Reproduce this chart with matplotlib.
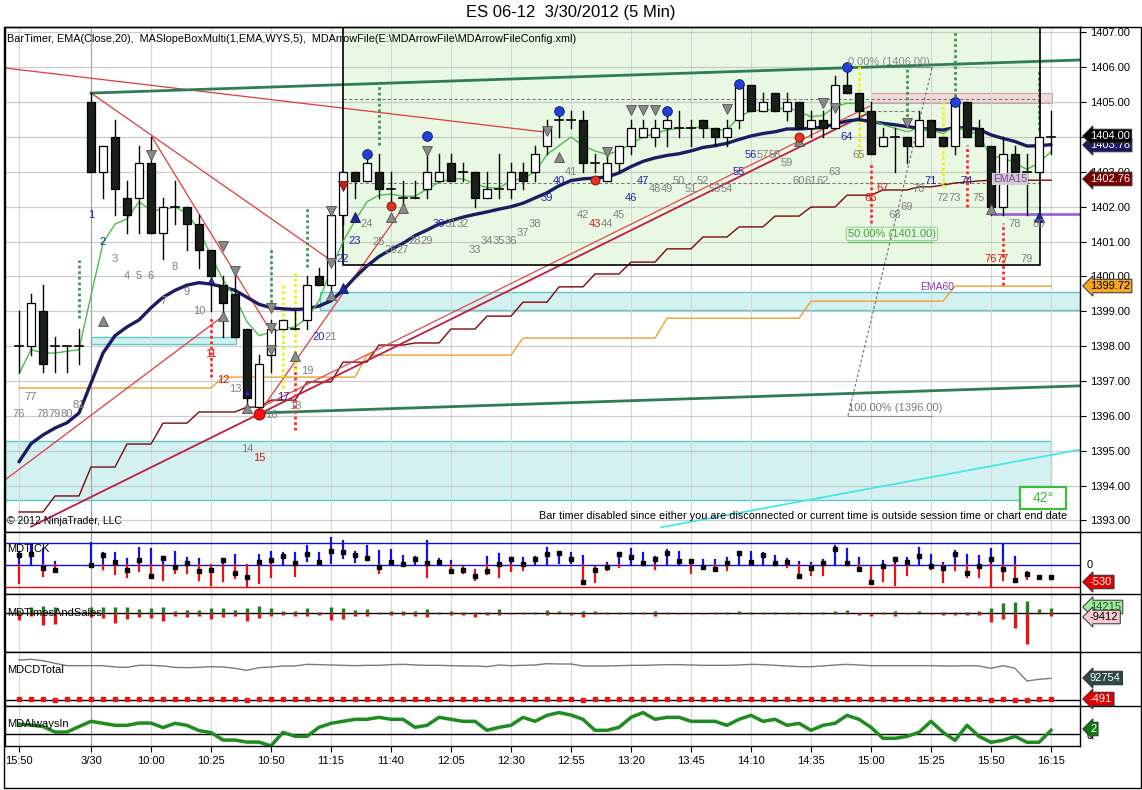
import numpy as np
import matplotlib
matplotlib.use('Agg')
import matplotlib.pyplot as plt
from matplotlib.patches import Rectangle
from matplotlib.lines import Line2D
from matplotlib import font_manager

_names = {f.name for f in font_manager.fontManager.ttflist}
FONT = 'Liberation Sans' if 'Liberation Sans' in _names else 'DejaVu Sans'
plt.rcParams['font.family'] = FONT

# ---------------- DATA ----------------
title = 'ES 06-12  3/30/2012 (5 Min)'
header = r'BarTimer, EMA(Close,20),  MASlopeBoxMulti(1,EMA,WYS,5),  MDArrowFile(E:\MDArrowFile\MDArrowFileConfig.xml)'

time_pos = [0, 6, 11, 16, 21, 26, 31, 36, 41, 46, 51, 56, 61, 66, 71, 76, 81, 86]
time_lbl = ['15:50', '3/30', '10:00', '10:25', '10:50', '11:15', '11:40', '12:05', '12:30',
            '12:55', '13:20', '13:45', '14:10', '14:35', '15:00', '15:25', '15:50', '16:15']
price_ticks = [1393, 1394, 1395, 1396, 1397, 1398, 1399, 1400, 1401, 1402, 1403, 1404, 1405, 1406, 1407]

opens = [1398, 1398, 1399, 1398, 1398, 1398,
         1405, 1403, 1404, 1402.25, 1402.25, 1403.25, 1401.25, 1402, 1402, 1401.5,
         1400.75, 1399.75, 1399.5, 1398.5, 1396.25, 1397.75, 1398.5, 1398.5, 1398.75, 1400,
         1399.75, 1401.75, 1403, 1402.75, 1403, 1402.5, 1402.25, 1402.25, 1402.5, 1402.75,
         1403.25, 1403, 1403, 1402.25, 1402.5, 1402.5, 1403, 1403, 1403.75, 1404.5,
         1404.5, 1404.5, 1403.25, 1402.75, 1403.25, 1403.75, 1404, 1404, 1404.25, 1404.25,
         1404.25, 1404.5, 1404.25, 1404, 1404.5, 1405.5, 1404.75, 1405.25, 1404.75, 1405,
         1404.25, 1404.5, 1404.25, 1405.5, 1405.25, 1404.75, 1403.75, 1404, 1404, 1403.75,
         1404.5, 1404, 1403.75, 1405, 1404.25, 1403.75, 1402, 1403.5, 1403, 1403, 1404]
highs = [1399, 1399.5, 1399.75, 1398.25, 1398, 1398.5,
         1405.25, 1403.75, 1404.5, 1402.75, 1403.75, 1404, 1402.25, 1402.75, 1402, 1401.75,
         1400.75, 1400, 1400, 1398.5, 1397.75, 1398.75, 1398.75, 1399, 1400, 1400.25,
         1402, 1403, 1403, 1403.5, 1403.5, 1403, 1402.75, 1402.75, 1403.5, 1403.5,
         1403.5, 1403.25, 1403, 1403, 1403.5, 1403.25, 1403.25, 1403.75, 1404.5, 1404.75,
         1404.75, 1404.75, 1403.5, 1403.5, 1403.75, 1404.5, 1404.5, 1404.5, 1404.75, 1404.75,
         1404.5, 1404.5, 1404.25, 1404.5, 1405.5, 1405.5, 1405.25, 1405.25, 1405.25, 1405,
         1404.75, 1404.75, 1405.75, 1406, 1405.25, 1405, 1404.25, 1404.25, 1404, 1404.75,
         1404.5, 1404, 1405, 1405, 1404.5, 1403.75, 1404, 1403.75, 1403.5, 1404, 1404.75]
lows = [1397.25, 1397.75, 1397.25, 1397.25, 1397.25, 1397.5,
        1403, 1402.25, 1401.75, 1401.25, 1401.25, 1401.25, 1400.5, 1401.5, 1400.75, 1400.25,
        1399, 1398.25, 1398.25, 1396.25, 1396, 1397.25, 1398.5, 1398.5, 1398.5, 1399.75,
        1399.5, 1401.5, 1402.25, 1402.75, 1402.25, 1402, 1402, 1402.25, 1402.25, 1402.75,
        1402.75, 1402.75, 1402, 1402.25, 1402.25, 1402.25, 1402.5, 1402.75, 1403.5, 1404,
        1404.25, 1403, 1403, 1402.75, 1403, 1403.5, 1404, 1403.75, 1403.75, 1404,
        1403.75, 1404, 1403.75, 1403.75, 1404.25, 1404.75, 1404.75, 1404.75, 1404.5, 1404.25,
        1404, 1404, 1404.25, 1405.25, 1404.5, 1403.5, 1403.75, 1403, 1403.25, 1403.75,
        1404, 1403.75, 1403.5, 1404, 1403.75, 1401.75, 1401.75, 1403, 1401.75, 1403, 1403.5]
closes = [1398, 1399.25, 1397.5, 1398, 1398, 1398,
          1403, 1403.75, 1402.5, 1401.75, 1403.25, 1401.25, 1402, 1402, 1401.5, 1400.75,
          1400, 1399.25, 1398.25, 1396.5, 1397.5, 1398.5, 1398.75, 1398.5, 1399.75, 1399.75,
          1401.75, 1403, 1402.75, 1403.25, 1402.5, 1402.5, 1402.25, 1402.25, 1403, 1403,
          1402.75, 1403, 1402.25, 1402.5, 1402.5, 1403, 1402.75, 1403.5, 1404.25, 1404.5,
          1404.5, 1403.25, 1403.25, 1403.25, 1403.75, 1404.25, 1404.25, 1404.25, 1404.5, 1404.25,
          1404.25, 1404.25, 1404, 1404.25, 1405.5, 1404.75, 1405, 1404.75, 1405, 1404.25,
          1404.5, 1404.25, 1405.5, 1405.25, 1404.75, 1403.5, 1404, 1404, 1403.75, 1404.5,
          1404, 1403.75, 1405, 1404, 1403.75, 1402, 1403.5, 1403, 1403, 1404, 1404]

ema_fast = [1397.2, 1397.9, 1397.8, 1397.8, 1397.85, 1397.9,
            1399.45, 1400.96, 1401.5, 1401.65, 1402.14, 1401.9, 1401.9, 1402.0, 1401.8, 1401.33,
            1400.6, 1399.9, 1399.4, 1398.7, 1398.3, 1398.4, 1398.5, 1398.55, 1398.8, 1399.3,
            1400.2, 1401.0, 1401.6, 1402.14, 1402.33, 1402.36, 1402.3, 1402.3, 1402.5, 1402.7,
            1402.8, 1402.8, 1402.65, 1402.55, 1402.53, 1402.75, 1402.8, 1403.0, 1403.5, 1403.75,
            1404.0, 1403.75, 1403.6, 1403.5, 1403.6, 1403.8, 1404.0, 1404.1, 1404.2, 1404.25,
            1404.25, 1404.3, 1404.2, 1404.2, 1404.58, 1404.75, 1404.77, 1404.78, 1404.85, 1404.73,
            1404.58, 1404.62, 1404.87, 1404.97, 1404.95, 1404.5, 1404.35, 1404.25, 1404.15, 1404.25,
            1404.2, 1404.1, 1404.3, 1404.2, 1404.05, 1403.43, 1403.41, 1403.25, 1403.07, 1403.26, 1403.58]
ema_slow = [1394.68, 1395.2, 1395.45, 1395.65, 1395.8, 1396.08,
            1396.94, 1397.8, 1398.3, 1398.55, 1398.75, 1399.1, 1399.4, 1399.6, 1399.75, 1399.82,
            1399.78, 1399.7, 1399.6, 1399.4, 1399.2, 1399.1, 1399.07, 1399.05, 1399.07, 1399.15,
            1399.3, 1399.6, 1399.97, 1400.3, 1400.57, 1400.77, 1400.95, 1401.17, 1401.33, 1401.5,
            1401.6, 1401.7, 1401.78, 1401.85, 1401.93, 1402.0, 1402.1, 1402.25, 1402.4, 1402.6,
            1402.75, 1402.8, 1402.82, 1402.85, 1402.97, 1403.15, 1403.3, 1403.4, 1403.47, 1403.52,
            1403.6, 1403.7, 1403.75, 1403.82, 1403.93, 1404.03, 1404.1, 1404.15, 1404.23, 1404.23,
            1404.25, 1404.28, 1404.37, 1404.46, 1404.5, 1404.44, 1404.39, 1404.35, 1404.3, 1404.25,
            1404.22, 1404.2, 1404.27, 1404.26, 1404.22, 1404.06, 1403.96, 1403.87, 1403.74, 1403.75, 1403.78]
ema15_step = [1393.24, 1393.24, 1393.24, 1393.70, 1393.70, 1393.70,
              1394.53, 1394.53, 1394.53, 1395.19, 1395.19, 1395.19, 1395.79, 1395.79, 1395.79, 1396.11,
              1396.11, 1396.11, 1396.11, 1396.25, 1396.25, 1396.45, 1396.45, 1396.45, 1396.97, 1396.97,
              1396.97, 1397.54, 1397.54, 1397.54, 1398.03, 1398.03, 1398.03, 1398.09, 1398.09, 1398.09,
              1398.49, 1398.49, 1398.49, 1398.86, 1398.86, 1398.86, 1399.26, 1399.26, 1399.26, 1399.70,
              1399.70, 1399.70, 1400.07, 1400.07, 1400.07, 1400.41, 1400.41, 1400.41, 1400.79, 1400.79,
              1400.79, 1401.13, 1401.13, 1401.13, 1401.42, 1401.42, 1401.42, 1401.73, 1401.73, 1401.73,
              1401.99, 1401.99, 1401.99, 1402.33, 1402.33, 1402.33, 1402.48, 1402.48, 1402.48, 1402.57,
              1402.57, 1402.62, 1402.68, 1402.71, 1402.74, 1402.76, 1402.76, 1402.76, 1402.76, 1402.76, 1402.76]
ema60_step = [1396.80, 1396.80, 1396.80, 1396.80, 1396.80, 1396.80,
              1396.80, 1396.80, 1396.80, 1396.80, 1396.80, 1396.80, 1396.80, 1396.80, 1396.80, 1396.80,
              1396.80, 1397.11, 1397.11, 1397.11, 1397.11, 1397.11, 1397.11, 1397.11, 1397.11, 1397.11,
              1397.11, 1397.11, 1397.11, 1397.74, 1397.74, 1397.74, 1397.74, 1397.74, 1397.74, 1397.74,
              1397.74, 1397.74, 1397.74, 1397.74, 1397.74, 1397.74, 1398.23, 1398.23, 1398.23, 1398.23,
              1398.23, 1398.23, 1398.23, 1398.23, 1398.23, 1398.23, 1398.23, 1398.23, 1398.80, 1398.80,
              1398.80, 1398.80, 1398.80, 1398.80, 1398.80, 1398.80, 1398.80, 1398.80, 1398.80, 1398.80,
              1399.29, 1399.29, 1399.29, 1399.29, 1399.29, 1399.29, 1399.29, 1399.29, 1399.29, 1399.29,
              1399.29, 1399.29, 1399.72, 1399.72, 1399.72, 1399.72, 1399.72, 1399.72, 1399.72, 1399.72, 1399.72]

nan = float('nan')
tick_hi = [600, 940, 700, 150, nan, nan,
           1000, 520, 520, 250, 750, 700, 370, 580, 300, 250,
           0, 280, 450, 0, 450, 570, 520, 520, 850, 520,
           1190, 1090, 600, 850, 630, 670, 400, 360, 1090, 250,
           160, -80, -220, 340, 490, 330, 300, 340, 750, 600,
           550, 400, -80, 75, 520, 720, 520, 370, 670, 600,
           190, 220, 220, 330, 600, 570, 520, 400, 250, 150,
           100, 220, 850, 720, 330, -75, 180, 330, 330, 750,
           450, 75, 640, 450, 400, 700, 940, 340, -300, -520, -520]
tick_lo = [-800, 0, -490, -250, nan, nan,
           0, -190, -400, -550, -250, -550, -670, -340, -340, -670,
           -900, -720, -600, -1000, -790, -520, 0, -490, 200, 70,
           100, 300, 150, 220, -340, 0, 0, 0, -520, 0,
           -250, -340, -670, -400, -550, -250, -220, 0, 0, 100,
           100, -750, -750, -220, -75, 0, 0, -190, 0, 0,
           -370, 0, -150, -220, 0, 0, 0, 0, -75, -480,
           -450, -450, 0, 0, -150, -820, -720, -900, -450, 0,
           -190, -750, -220, -520, -520, -1000, -670, -720, -640, -520, -520]
tick_cl = [450, 500, -120, -220, nan, nan,
           0, 460, 130, -220, 220, -480, 330, -100, 100, -250,
           -210, 220, -340, -520, 150, 220, 420, 100, 500, 150,
           640, 580, 430, 310, -90, 120, 60, 270, 75, 120,
           -250, -220, -480, -250, 30, 270, 45, 270, 480, 550,
           250, -750, -220, -75, 480, 340, 75, 270, 520, 190,
           190, -75, -180, 100, 520, 150, 450, 75, 120, -480,
           -120, 75, 700, 100, -180, -750, -30, 270, 150, 420,
           -30, -120, 510, -340, -30, 270, -180, -670, -420, -520, -520]

ts_buy = [10, 18, 22, 18, nan, nan,
          18, 18, 18, 18, 12, 16, 18, 8, 10, 10,
          15, 15, 10, 15, 22, 15, 8, 8, 15, 5,
          18, 15, 10, 12, 4, 6, 7, 7, 13, 4,
          6, 5, 4, 5, 12, 2, 4, 5, 11, 8,
          4, 8, 7, 3, 4, 4, 3, 7, 3, 2,
          1, 1, 4, 3, 7, 4, 4, 3, 3, 3,
          2, 3, 6, 9, 1, 2, 3, 8, 1, 6,
          1, 3, 3, 4, 7, 16, 32, 34, 36, 12, 15]
ts_sell = [-20, -8, -35, -32, nan, nan,
           -10, -13, -28, -17, -10, -14, -22, -8, -10, -8,
           -16, -12, -8, -22, -15, -7, -5, -7, -8, -5,
           -20, -16, -7, -7, -3, -4, -6, -7, -10, -3,
           -4, -5, -10, -4, -4, -2, -3, -3, -4, -3,
           -4, -12, -3, -2, -2, -2, -2, -7, -2, -1,
           -1, -1, -2, -2, -3, -2, -2, -3, -3, -3,
           -2, -2, -2, -2, -5, -7, -3, -7, -1, -2,
           -1, -4, -4, -4, -6, -26, -18, -43, -92, -2, -9]

cd_total = [171.2, 174.1, 168.4, 157.0, 147.0, 147.0,
            147.0, 147.0, 141.3, 139.8, 148.4, 148.4, 145.6, 139.8, 138.4, 140.0,
            142.7, 141.3, 135.6, 127.0, 138.4, 141.3, 145.6, 145.6, 152.7, 151.3,
            149.8, 148.4, 147.0, 148.4, 148.4, 151.3, 152.7, 150.0, 148.4, 148.4,
            147.0, 145.6, 145.6, 142.7, 149.8, 147.0, 148.4, 150.0, 155.5, 154.1,
            154.1, 145.6, 145.6, 145.6, 147.0, 148.4, 148.4, 149.8, 151.3, 151.3,
            150.0, 148.4, 148.4, 148.4, 150.0, 152.7, 151.3, 148.4, 145.6, 142.7,
            142.7, 145.6, 149.8, 152.7, 149.8, 147.0, 147.0, 147.0, 147.0, 147.0,
            147.0, 145.6, 145.6, 147.0, 145.6, 135.6, 147.0, 135.6, 81.3, 88.5, 92.8]
cd_delta = [4.3, 4.3, 4.3, -1.4, 4.3, 4.3,
            4.3, 4.3, 4.3, 4.3, 4.3, 4.3, 4.3, 4.3, 4.3, 4.3,
            4.3, 4.3, 4.3, -1.4, 4.3, 4.3, 4.3, 4.3, 4.3, 4.3,
            4.3, 4.3, 4.3, 4.3, 4.3, 4.3, 4.3, 4.3, 4.3, 4.3,
            4.3, 4.3, 4.3, 4.3, 4.3, 4.3, 4.3, 4.3, 4.3, 4.3,
            4.3, -1.4, 4.3, 4.3, 4.3, 4.3, 4.3, 4.3, 4.3, 4.3,
            4.3, 4.3, 4.3, 4.3, 4.3, 4.3, 4.3, 4.3, 4.3, 4.3,
            4.3, 4.3, 4.3, 4.3, 4.3, 4.3, 4.3, 4.3, 4.3, 4.3,
            4.3, 4.3, 4.3, 4.3, 4.3, -1.4, 4.3, -1.4, -1.4, 4.3, 4.3]

always_in = [4.1, 3.7, 3.1, 0.9, 0.9, 3.1,
             5.2, 4.4, 3.6, 3.6, 4.5, 4.5, 2.7, 4.4, 3.6, 1.5,
             0.7, -2.3, -2.3, -3.1, -3.1, -4.6, 0.8, -0.8, -0.8, 2.8,
             4.4, 5.2, 6.0, 6.0, 6.8, 6.0, 6.0, 2.8, 3.6, 6.8,
             6.0, 5.2, 5.2, 1.6, 2.8, 3.6, 6.8, 5.2, 7.6, 8.7,
             7.7, 6.0, 1.6, 1.6, 2.8, 6.8, 8.7, 6.0, 6.8, 6.8,
             5.2, 5.2, 5.2, 3.6, 6.0, 7.6, 5.2, 6.0, 3.6, 4.4,
             1.6, 3.6, 4.4, 7.6, 6.0, 2.8, -1.6, -1.6, -0.8, 0.8,
             5.2, 0.8, -2.4, 3.6, -0.8, -3.2, -2.4, -0.8, -3.2, -3.2, 1.6]

# bar counter labels (one per bar, bars 0..85)
count_txt = ['76', '77', '78', '79', '80', '81'] + [str(k) for k in range(1, 81)]
count_y = [1396.05, 1396.54, 1396.05, 1396.05, 1396.05, 1396.31,
           1401.76, 1400.99, 1400.5, 1400.01, 1400.01, 1400.01, 1399.29, 1400.27, 1399.55, 1399.0,
           1397.77, 1397.03, 1396.77, 1395.05, 1394.79, 1396.02, 1396.54, 1396.28, 1397.29, 1398.26,
           1398.26, 1400.5, 1401.02, 1401.5, 1400.99, 1400.76, 1400.76, 1401.02, 1401.02, 1401.5,
           1401.5, 1401.5, 1400.76, 1401.02, 1401.02, 1401.02, 1401.25, 1401.5, 1402.25, 1402.74,
           1403.0, 1401.76, 1401.5, 1401.5, 1401.76, 1402.25, 1402.74, 1402.51, 1402.51, 1402.74,
           1402.51, 1402.74, 1402.51, 1402.51, 1403.0, 1403.49, 1403.49, 1403.49, 1403.25, 1402.74,
           1402.74, 1402.74, 1403.0, 1404.0, 1403.49, 1402.25, 1402.54, 1401.76, 1401.99, 1402.51,
           1402.74, 1402.25, 1402.25, 1402.74, 1402.25, 1400.5, 1400.5, 1401.5, 1400.5, 1401.5]
count_col = ['g', 'g', 'g', 'g', 'g', 'g',
             'b', 'b', 'g', 'g', 'g', 'g', 'g', 'g', 'g', 'g',
             'r', 'r', 'g', 'g', 'r', 'g', 'b', 'g', 'g', 'b',
             'g', 'b', 'b', 'g', 'g', 'g', 'g', 'g', 'g', 'b',
             'g', 'g', 'g', 'g', 'g', 'g', 'g', 'g', 'b', 'b',
             'g', 'g', 'r', 'g', 'g', 'b', 'b', 'g', 'g', 'g',
             'g', 'g', 'g', 'g', 'b', 'b', 'g', 'g', 'g', 'g',
             'g', 'g', 'g', 'b', 'g', 'r', 'r', 'g', 'g', 'g',
             'b', 'g', 'g', 'b', 'g', 'r', 'r', 'g', 'g', 'g']

# signal markers (bar, price)
gray_down_bar = [11, 17, 18, 21, 21, 21, 26, 26, 34, 44, 49, 51, 52, 53, 59, 67, 68, 74]
gray_down_px = [1403.48, 1400.87, 1400.15, 1399.09, 1398.51, 1397.9, 1401.88, 1400.38, 1403.6,
                1404.17, 1403.57, 1404.77, 1404.77, 1404.77, 1404.8, 1404.97, 1404.83, 1404.4]
gray_up_bar = [7, 17, 19, 23, 26, 31, 32, 45, 65, 81]
gray_up_px = [1398.72, 1398.86, 1396.23, 1397.72, 1399.47, 1401.7, 1401.95, 1403.42, 1403.88, 1401.94]
blue_dot_bar = [29, 34, 45, 54, 60, 69, 78]
blue_dot_px = [1403.51, 1404.03, 1404.74, 1404.74, 1405.52, 1406.0, 1405.01]
red_dot_bar = [31, 48, 65]
red_dot_px = [1402.02, 1402.77, 1404.0]
swing_low_bar = [20]
swing_low_px = [1396.05]
blue_up_bar = [27, 28, 85]
blue_up_px = [1399.67, 1401.7, 1401.7]
red_down_bar = [27]
red_down_px = [1402.59]
inbar_blue_bar = [16, 19]
inbar_blue_px = [1399.9, 1396.69]

# dotted vertical signal lines: bar, top, bottom
green_vl_bar = [5, 21, 24, 30, 74, 78, 85]
green_vl_top = [1400.47, 1400.78, 1401.95, 1405.5, 1406.0, 1407.0, 1405.9]
green_vl_bot = [1398.8, 1399.1, 1400.27, 1403.77, 1404.43, 1405.0, 1404.2]
red_vl_bar = [16, 23, 71, 79, 82]
red_vl_top = [1398.8, 1397.69, 1403.25, 1403.77, 1401.53]
red_vl_bot = [1397.1, 1395.6, 1401.53, 1402.0, 1399.75]
yel_vl_bar = [22, 23, 70, 77]
yel_vl_top = [1399.75, 1400.1, 1406.1, 1405.0]
yel_vl_bot = [1396.8, 1397.3, 1403.4, 1402.57]

# drawn objects (bar, price) pairs
trend_green_hi = ([6, 88.42], [1405.26, 1406.21])
trend_green_lo = ([20, 88.42], [1396.08, 1396.86])
red_line_a = ([-1.17, 43.83], [1405.98, 1404.14])
red_line_b = ([6, 26.33], [1405.26, 1400.38])
red_line_c = ([11.08, 20.67], [1404.0, 1398.6])
red_line_d = ([-1.17, 17], [1394.16, 1398.86])
red_line_e = ([20, 32.17], [1396.08, 1402.05])
channel_1 = ([1.0, 70.92], [1392.82, 1404.71])
channel_2 = ([20, 70.92], [1396.22, 1404.89])
cyan_line = ([53.5, 88.42], [1392.8, 1395.03])
fib_diag = ([69.08, 76.1], [1396.0, 1406.0])
fib_levels = [1406.0, 1401.0, 1396.0]
fib_span = [69.08, 76.1]
slope_box = (27, 85.08, 1400.33)                # left bar, right bar, bottom price
cyan_box1 = (6, 18.08, 1398.05, 1398.27)
cyan_box2 = (25.08, 88.42, 1399.04, 1399.55)
cyan_box3 = (-1.17, 86.0, 1393.58, 1395.28)
pink_box = (71.0, 86.08, 1404.98, 1405.25)
angle_box = (83.4, 87.25, 1393.33, 1393.96)
dashed_levels = [1405.08, 1402.68]
dashed_span = [27, 85.08]
short_dash = ([71.1, 74.8], [1404.75, 1404.75])
purple_level = ([81.08, 88.42], [1401.78, 1401.78])

N = len(opens)
for arr in (highs, lows, closes, ema_fast, ema_slow, ema15_step, ema60_step, tick_hi, tick_lo,
            tick_cl, ts_buy, ts_sell, cd_total, cd_delta, always_in):
    assert len(arr) == N, len(arr)
assert len(count_txt) == len(count_y) == len(count_col) == 86

# ---------------- LAYOUT ----------------
W, H = 1142, 790
fig = plt.figure(figsize=(W / 100, H / 100), dpi=100)
fig.patch.set_facecolor('white')


def fx(x):
    return x / W


def fy(y):
    return 1 - y / H


def add_ax(top, bottom, left=5, right=1080):
    return fig.add_axes([fx(left), fy(bottom), (right - left) / W, (bottom - top) / H])


ax = add_ax(27, 532)
ax_tk = add_ax(532, 594)
ax_ts = add_ax(594, 652)
ax_cd = add_ax(652, 706)
ax_ai = add_ax(706, 746)
XL = (-14 / 12, 1061 / 12)
YMAIN = (1392.666, 1407.156)
all_ax = [ax, ax_tk, ax_ts, ax_cd, ax_ai]
for a in all_ax:
    a.set_xlim(*XL)
    a.set_xticks([])
    a.set_facecolor('white')
    for s in a.spines.values():
        s.set_linewidth(1.0)
        s.set_color('black')
    for t in time_pos:
        a.axvline(t, color='#a0a0a0' if t == 6 else '#d6d6d6', lw=0.8, zorder=0.5)

# ---- main panel ----
ax.set_ylim(*YMAIN)
ax.yaxis.tick_right()
ax.set_yticks(price_ticks)
ax.set_yticklabels(['%.2f' % p for p in price_ticks])
ax.tick_params(axis='y', direction='out', length=4, width=0.8, pad=3, labelsize=8)
for p in price_ticks:
    ax.axhline(p, color='#b8b8b8', alpha=0.7, lw=0.9, zorder=0.5)

# boxes
l, r, b = slope_box
ax.add_patch(Rectangle((l, b), r - l, YMAIN[1] - b, fc='#e8f8e2', ec='none', zorder=0.3))
ax.plot([l, l, r, r], [YMAIN[1], b, b, YMAIN[1]], color='black', lw=1.2, zorder=2.5)
for (x0, x1, y0, y1) in (cyan_box1, cyan_box2, cyan_box3):
    ax.add_patch(Rectangle((x0, y0), x1 - x0, y1 - y0, fc='#d3f1f1', ec='#5cc8c8', lw=1.0, zorder=0.4))
x0, x1, y0, y1 = pink_box
ax.add_patch(Rectangle((x0, y0), x1 - x0, y1 - y0, fc='#f3d9d9', ec='#c9a3a3', lw=0.8, zorder=0.45))

# dashed levels
for lv in dashed_levels:
    ax.plot(dashed_span, [lv, lv], color='#7a7a7a', lw=0.8, ls=(0, (3, 2)), zorder=1)
ax.plot(*short_dash, color='#7a7a7a', lw=0.8, ls=(0, (3, 2)), zorder=1)

# step lines
ax.plot(range(N), ema60_step, color='#f0a030', lw=1.0, zorder=1.5)
ax.plot(range(N), ema15_step, color='#7a0a0a', lw=1.0, zorder=1.5)

# trend lines
for tl in (red_line_a, red_line_b, red_line_c, red_line_d, red_line_e):
    ax.plot(*tl, color='#e23a3a', lw=0.9, zorder=1.6)
ax.plot(*channel_1, color='#c01c44', lw=1.3, zorder=1.6)
ax.plot(*channel_2, color='#e24a4a', lw=0.9, zorder=1.6)
ax.plot(*trend_green_hi, color='#2f7d55', lw=2.0, zorder=1.7)
ax.plot(*trend_green_lo, color='#2f7d55', lw=2.0, zorder=1.7)
ax.plot(*cyan_line, color='#3ee6e6', lw=1.2, zorder=1.6)
ax.plot(*purple_level, color='#9b63d8', lw=2.0, zorder=1.6)

# fib
ax.plot(*fib_diag, color='#707070', lw=0.8, ls=(0, (2.5, 2)), zorder=1.6)
for lv, c in zip(fib_levels, ['#909090', '#5cc05c', '#909090']):
    ax.plot(fib_span, [lv, lv], color=c, lw=0.8, zorder=1.6)
ax.text(fib_span[0], 1406.16, '0.00% (1406.00)', color='#8a8a8a', fontsize=8, va='center', ha='left', zorder=6)
ax.text(fib_span[0], 1401.22, '50.00% (1401.00)', color='#30a830', fontsize=8, va='center', ha='left', zorder=6,
        bbox=dict(boxstyle='round,pad=0.15', fc='none', ec='#8fd88f', lw=0.8))
ax.text(fib_span[0], 1396.23, '100.00% (1396.00)', color='#7a7a7a', fontsize=8, va='center', ha='left', zorder=6)

# dotted signal lines
for bars, tops, bots, col in ((green_vl_bar, green_vl_top, green_vl_bot, '#3c9a4c'),
                              (red_vl_bar, red_vl_top, red_vl_bot, '#ff2a2a'),
                              (yel_vl_bar, yel_vl_top, yel_vl_bot, '#f2f200')):
    for xb, t, bt in zip(bars, tops, bots):
        ax.plot([xb, xb], [bt, t], color=col, lw=2.0, ls=(0, (1, 1)), zorder=1.8)

# EMAs
ax.plot(range(N), ema_slow, color='#1c1c62', lw=2.4, zorder=3, solid_capstyle='round')
ax.plot(range(N), ema_fast, color='#4cbc4c', lw=1.0, zorder=3.1)

# candles
bw = 0.62
for i in range(N):
    o, h, lo_, c = opens[i], highs[i], lows[i], closes[i]
    ax.plot([i, i], [lo_, h], color='black', lw=1.0, zorder=4)
    if c == o:
        ax.plot([i - bw / 2, i + bw / 2], [c, c], color='black', lw=1.2, zorder=4.1)
    else:
        fc = 'white' if c > o else '#1b1f1b'
        ax.add_patch(Rectangle((i - bw / 2, min(o, c)), bw, abs(c - o), fc=fc, ec='black', lw=0.9, zorder=4.1))

# markers
ax.plot(gray_down_bar, gray_down_px, 'v', ms=6.5, mfc='#8a8a8a', mec='#505050', mew=0.6, ls='none', zorder=5)
ax.plot(gray_up_bar, gray_up_px, '^', ms=6.5, mfc='#8a8a8a', mec='#505050', mew=0.6, ls='none', zorder=5)
ax.plot(blue_dot_bar, blue_dot_px, 'o', ms=7, mfc='#2040d8', mec='#101860', mew=0.6, ls='none', zorder=5)
ax.plot(red_dot_bar, red_dot_px, 'o', ms=6.5, mfc='#e83020', mec='#701010', mew=0.6, ls='none', zorder=5.1)
ax.plot(swing_low_bar, swing_low_px, 'o', ms=8, mfc='#ff1010', mec='#900000', mew=0.6, ls='none', zorder=5.1)
ax.plot(blue_up_bar, blue_up_px, '^', ms=7, mfc='#1c28a0', mec='#101050', mew=0.6, ls='none', zorder=5)
ax.plot(red_down_bar, red_down_px, 'v', ms=6.5, mfc='#c02020', mec='#601010', mew=0.6, ls='none', zorder=5)
ax.plot(inbar_blue_bar, inbar_blue_px, '^', ms=5, mfc='#2030c0', mec='#101050', mew=0.5, ls='none', zorder=5)

# bar counter labels
cmap = {'g': '#808080', 'b': '#1c28a8', 'r': '#d81818'}
for i in range(len(count_txt)):
    ax.text(i, count_y[i], count_txt[i], color=cmap[count_col[i]], fontsize=8, ha='center', va='center', zorder=6)

# EMA labels / misc text
ax.text(82.6, 1402.79, 'EMA15', color='#8a3aa8', fontsize=7.5, ha='center', va='center', zorder=6,
        bbox=dict(boxstyle='square,pad=0.1', fc='#cfcfcf', ec='none'))
ax.text(76.5, 1399.7, 'EMA60', color='#8a3aa8', fontsize=7.5, ha='center', va='center', zorder=6)
x0, x1, y0, y1 = angle_box
ax.add_patch(Rectangle((x0, y0), x1 - x0, y1 - y0, fc='white', ec='#3cbc3c', lw=1.6, zorder=5))
ax.text((x0 + x1) / 2, (y0 + y1) / 2, '42°', color='#3cbc3c', fontsize=10, ha='center', va='center', zorder=6)
fig.text(fx(1067), fy(516), 'Bar timer disabled since either you are disconnected or current time is outside '
         'session time or chart end date', fontsize=7.8, ha='right', va='center')
fig.text(fx(7), fy(521), '© 2012 NinjaTrader, LLC', fontsize=7.5, ha='left', va='center')
fig.text(fx(7), fy(39), header, fontsize=7.8, ha='left', va='center')
fig.text(fx(571), fy(12), title, fontsize=12, ha='center', va='center')

# ---- MDTICK ----
ax_tk.set_ylim(-1299, 1478)
ax_tk.set_yticks([])
ax_tk.axhline(1000, color='#1010e0', lw=1.0, zorder=1)
ax_tk.axhline(0, color='#1010e0', lw=1.0, zorder=1)
ax_tk.axhline(-1000, color='#e01010', lw=1.0, zorder=1)
for i in range(N):
    h, lo_, c = tick_hi[i], tick_lo[i], tick_cl[i]
    if np.isnan(h):
        continue
    if h > 0:
        ax_tk.plot([i, i], [max(lo_, 0), h], color='#1010e8', lw=1.6, zorder=2)
    if lo_ < 0:
        ax_tk.plot([i, i], [lo_, min(h, 0)], color='#e81010', lw=1.6, zorder=2)
    ax_tk.plot(i, c, 's', color='black', ms=3.0, zorder=3)
ax_tk.text(0.002, 0.73, 'MDTICK', transform=ax_tk.transAxes, fontsize=8, ha='left', va='center', zorder=6)

# ---- MDTimesAndSales ----
ax_ts.set_ylim(-116, 58)
ax_ts.set_yticks([])
ax_ts.axhline(0, color='black', lw=1.0, zorder=1)
for i in range(N):
    if np.isnan(ts_buy[i]):
        continue
    ax_ts.plot([i, i], [0, ts_buy[i]], color='#1f7f1f', lw=2.4, solid_capstyle='butt', zorder=2)
    ax_ts.plot([i, i], [ts_sell[i], 0], color='#e41414', lw=2.4, solid_capstyle='butt', zorder=2)
ax_ts.text(0.002, 0.68, 'MDTimesAndSales', transform=ax_ts.transAxes, fontsize=8, ha='left', va='center', zorder=6)

# ---- MDCDTotal ----
ax_cd.set_ylim(-25.7, 205.5)
ax_cd.set_yticks([])
ax_cd.axhline(0, color='black', lw=1.0, zorder=1)
ax_cd.plot(range(N), cd_total, color='#7a7a7a', lw=1.0, zorder=2)
ax_cd.plot(range(N), cd_delta, 's', color='#e41414', ms=3.0, ls='none', zorder=3)
ax_cd.text(0.002, 0.66, 'MDCDTotal', transform=ax_cd.transAxes, fontsize=8, ha='left', va='center', zorder=6)

# ---- MDAlwaysIn ----
ax_ai.set_ylim(-4.67, 11.33)
ax_ai.set_yticks([])
ax_ai.axhline(0, color='black', lw=1.0, zorder=1)
ax_ai.plot(range(N), always_in, color='#1f8c1f', lw=2.5, zorder=2)
ax_ai.text(0.002, 0.55, 'MDAlwaysIn', transform=ax_ai.transAxes, fontsize=8, ha='left', va='center', zorder=6)
ax_ai.set_xticks(time_pos)
ax_ai.set_xticklabels(time_lbl)
ax_ai.tick_params(axis='x', direction='out', length=4, width=0.8, pad=3, labelsize=8)

# ---- frame and separators ----
fig.add_artist(Rectangle((fx(4), fy(788)), (1141 - 4) / W, (788 - 27) / H, transform=fig.transFigure,
                         fill=False, ec='black', lw=1.0))
for yy in (532, 594, 652, 706):
    fig.add_artist(Line2D([fx(1080), fx(1141)], [fy(yy), fy(yy)], transform=fig.transFigure, color='black', lw=1.0))


# ---- right-side value labels ----
def rlabel(ypx, txt, fc, tc, ec='#303030'):
    fig.text(fx(1090), fy(ypx), txt, fontsize=8, color=tc, ha='left', va='center', zorder=10,
             bbox=dict(boxstyle='larrow,pad=0.16', fc=fc, ec=ec, lw=0.7))


rlabel(145, '1403.78', '#1c1c64', 'white')
rlabel(136, '1404.00', 'black', 'white')
rlabel(179, '1402.76', '#7a0000', 'white')
rlabel(286, '1399.72', '#f5a623', 'black')
fig.text(fx(1087), fy(565), '0', fontsize=8, ha='left', va='center')
rlabel(582, '-530', '#e00000', 'white')
rlabel(607, '14215', '#9ee89e', '#1e5e1e')
rlabel(617, '-9412', '#f8c8d0', 'black')
rlabel(678, '92754', '#2e4848', 'white')
rlabel(699, '-491', '#e00000', 'white')
fig.text(fx(1087), fy(736), '0', fontsize=8, ha='left', va='center')
rlabel(729, '2', '#0e7a0e', 'white')

fig.savefig('out.png', dpi=100)
